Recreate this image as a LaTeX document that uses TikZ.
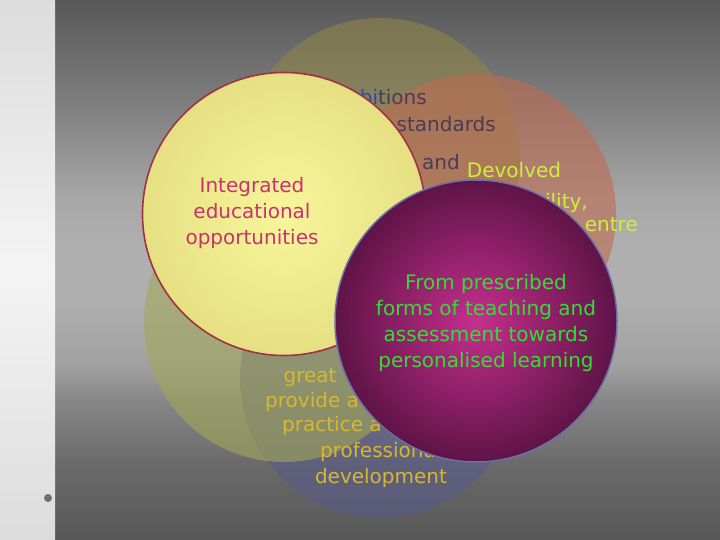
\documentclass[tikz,border=0pt]{standalone}
\usepackage{fontspec}
\setmainfont{DejaVu Sans}
\usepackage{xcolor}
\usepackage{tikz}
\definecolor{bgdark}{HTML}{585858}
\definecolor{stripend}{HTML}{DCDCDC}
\definecolor{stripmid}{HTML}{F4F4F4}
\definecolor{bulletgrey}{HTML}{707070}
\definecolor{olivefill}{HTML}{8F8448}
\definecolor{redfill}{HTML}{BE6B52}
\definecolor{bluefill}{HTML}{575A89}
\definecolor{greenfill}{HTML}{A2A757}
\definecolor{yellowin}{HTML}{F8F59A}
\definecolor{yellowout}{HTML}{E6E083}
\definecolor{yellowrim}{HTML}{A03246}
\definecolor{purplein}{HTML}{C62E8E}
\definecolor{purpleout}{HTML}{5E1446}
\definecolor{purplerim}{HTML}{6E6EAA}
\definecolor{inktext}{HTML}{C8326E}
\definecolor{limetext}{HTML}{CDF03C}
\definecolor{goldtext}{HTML}{D6B830}
\definecolor{greentext}{HTML}{36DC36}
\definecolor{bluetext}{HTML}{2850A0}
\definecolor{olivetext}{HTML}{4A3C54}
\pgfdeclareverticalshading{backdrop}{100bp}{
    color(0bp)=(bgdark); color(25bp)=(bgdark);
    color(31.8bp)=(rgb,255:red,105;green,105;blue,105);
    color(38bp)=(rgb,255:red,135;green,135;blue,135);
    color(41bp)=(rgb,255:red,160;green,160;blue,160);
    color(47.2bp)=(rgb,255:red,175;green,175;blue,175);
    color(51.9bp)=(rgb,255:red,175;green,175;blue,175);
    color(56.5bp)=(rgb,255:red,168;green,168;blue,168);
    color(65.7bp)=(rgb,255:red,125;green,125;blue,125);
    color(75bp)=(bgdark); color(100bp)=(bgdark)}
\tikzset{
    disc/.style = {circle, inner sep=0pt, minimum size=280pt, fill opacity=0.6},
    olive_disc/.style = {disc, fill=olivefill},
    red_disc/.style = {disc, fill=redfill},
    blue_disc/.style = {disc, fill=bluefill},
    green_disc/.style = {disc, fill=greenfill},
    yellow_disc/.style = {circle, inner sep=0pt, minimum size=283pt, draw=yellowrim, line width=1.6pt, inner color=yellowin, outer color=yellowout},
    purple_disc/.style = {circle, inner sep=0pt, minimum size=282pt, draw=purplerim, line width=1.5pt, inner color=purplein, outer color=purpleout},
    txt/.style = {inner sep=0pt, font=\fontsize{20}{26.3}\selectfont},
    block/.style = {txt, align=center},
    bullet/.style = {circle, inner sep=0pt, minimum size=8pt, fill=bulletgrey}
}

\begin{document}
\begin{tikzpicture}
            [x=1pt, y=-1pt]

            % backdrop
            \useasboundingbox (0,0) rectangle (720,540);
            \shade[shading=backdrop] (0,0) rectangle (720,540);
            \shade[top color=stripend, bottom color=stripend, middle color=stripmid] (0,0) rectangle (55,540);
            \node [bullet] (dot) at (48,498) {};

            % faint circles
            \node [olive_disc] (ambitions) at (380,158) {};
            \node [red_disc] (devolved) at (476,214) {};
            \node [blue_disc] (development) at (380,378) {};
            \node [green_disc] (greater) at (284,322) {};

            \node [txt, anchor=base east, text=olivetext] (ambitions_1) at (427,105) {{\color{bluetext}bi}tions};
            \node [txt, anchor=base east, text=olivetext] (ambitions_2) at (496,132) {standards};
            \node [txt, anchor=base, text=olivetext] (ambitions_3) at (441,170) {and};

            \node [txt, anchor=base, text=limetext] (devolved_1) at (514,178) {Devolved};
            \node [txt, anchor=base east, text=limetext] (devolved_2) at (588,208) {ility,};
            \node [txt, anchor=base east, text=limetext] (devolved_3) at (638,232) {entre};

            \node [txt, anchor=base, text=goldtext] (greater_1) at (310,382) {great};
            \node [txt, anchor=base west, text=goldtext] (greater_2) at (265,407) {provide a};
            \node [txt, anchor=base west, text=goldtext] (greater_3) at (282,431) {practice a};
            \node [txt, anchor=base west, text=goldtext] (greater_4) at (320,457) {professiona};
            \node [txt, anchor=base, text=goldtext] (greater_5) at (381,483) {development};

            % front circles
            \node [yellow_disc] (integrated) at (284,214) {};
            \node [block, text=inktext] (integrated_t) at (252,213) {Integrated\\educational\\opportunities};

            \node [purple_disc] (prescribed) at (476,321) {};
            \node [block, text=greentext] (prescribed_t) at (486,323) {From prescribed\\forms of teaching and\\assessment towards\\personalised learning};
        \end{tikzpicture}
\end{document}
